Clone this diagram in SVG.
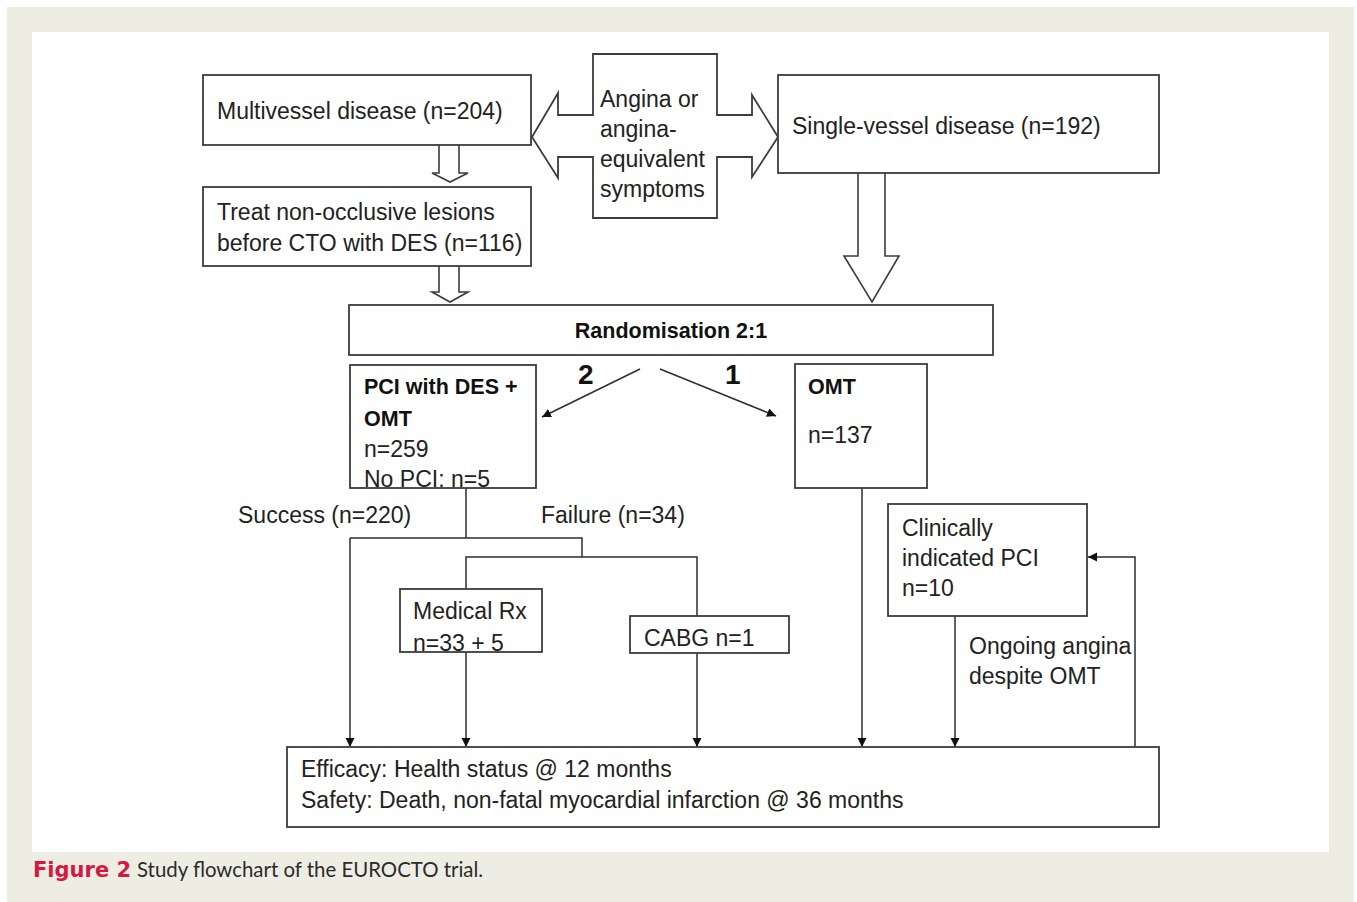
<svg xmlns="http://www.w3.org/2000/svg" width="1357" height="902" viewBox="0 0 1357 902">
  <defs>
    <style>
      .box { fill: #ffffff; stroke: #3c3c3c; stroke-width: 1.8; }
      .ln { fill: none; stroke: #2e2e2e; stroke-width: 1.5; }
      .hol { fill: #ffffff; stroke: #3c3c3c; stroke-width: 1.6; stroke-linejoin: miter; }
      .t { font-family: "Liberation Sans", Arial, sans-serif; font-size: 23px; fill: #222222; }
      .b { font-family: "Liberation Sans", Arial, sans-serif; font-size: 21.5px; font-weight: bold; fill: #111111; }
      .num { font-family: "Liberation Sans", Arial, sans-serif; font-size: 28px; font-weight: bold; fill: #111111; }
      .capb { font-family: "DejaVu Sans", sans-serif; font-size: 21px; font-weight: bold; fill: #d6173f; }
      .cap { font-family: Lato, "Liberation Sans", sans-serif; font-size: 20.4px; fill: #2b2b2b; }
    </style>
    <marker id="ah" markerWidth="10" markerHeight="10" refX="9" refY="4.5" orient="auto" markerUnits="userSpaceOnUse">
      <path d="M0,0 L9,4.5 L0,9 Z" fill="#111111"/>
    </marker>
  </defs>

  <rect x="0" y="0" width="1357" height="902" fill="#ffffff"/>
  <rect x="7" y="7" width="1347" height="895" fill="#eeede3"/>
  <rect x="32" y="32" width="1297" height="820" fill="#ffffff"/>

  <g id="connectors">
    <!-- hollow arrows -->
    <path class="hol" d="M439,145 V173 H432 L450,182 L468,173 H459 V145"/>
    <path class="hol" d="M439,266 V292 H432 L450,302 L468,292 H459 V266"/>
    <path class="hol" d="M858,173 V256 H844 L872,302 L899,256 H885 V173"/>
    <!-- randomisation arrows -->
    <line class="ln" x1="640" y1="369" x2="542" y2="417" marker-end="url(#ah)"/>
    <line class="ln" x1="660" y1="369" x2="776" y2="416" marker-end="url(#ah)"/>
    <!-- PCI tree -->
    <polyline class="ln" points="466,488 466,538"/>
    <polyline class="ln" points="350,538 582,538 582,557"/>
    <polyline class="ln" points="466,589 466,557 697,557 697,616"/>
    <line class="ln" x1="350" y1="538" x2="350" y2="747" marker-end="url(#ah)"/>
    <line class="ln" x1="466" y1="652" x2="466" y2="747" marker-end="url(#ah)"/>
    <line class="ln" x1="697" y1="653" x2="697" y2="747" marker-end="url(#ah)"/>
    <!-- OMT branch -->
    <line class="ln" x1="862" y1="488" x2="862" y2="747" marker-end="url(#ah)"/>
    <line class="ln" x1="955" y1="616" x2="955" y2="747" marker-end="url(#ah)"/>
    <polyline class="ln" points="1135,747 1135,557 1088,557" marker-end="url(#ah)"/>
  </g>

  <g id="node-symptoms">
    <path class="box" d="M593,54 H717 V115 H752 V95 L778,137 L752,177 V157 H717 V218 H593 V157 H558 V178 L532,137 L558,93 V115 H593 Z"/>
    <text class="t" x="600" y="107">Angina or</text>
    <text class="t" x="600" y="137">angina-</text>
    <text class="t" x="600" y="167">equivalent</text>
    <text class="t" x="600" y="197">symptoms</text>
  </g>

  <g id="node-multivessel">
    <rect class="box" x="203" y="75" width="328" height="70"/>
    <text class="t" x="217" y="119">Multivessel disease (n=204)</text>
  </g>

  <g id="node-single">
    <rect class="box" x="778" y="75" width="381" height="98"/>
    <text class="t" x="792" y="134">Single-vessel disease (n=192)</text>
  </g>

  <g id="node-treat">
    <rect class="box" x="203" y="187" width="328" height="79"/>
    <text class="t" x="217" y="220">Treat non-occlusive lesions</text>
    <text class="t" x="217" y="251">before CTO with DES (n=116)</text>
  </g>

  <g id="node-randomisation">
    <rect class="box" x="349" y="305" width="644" height="50"/>
    <text class="b" x="671" y="338" text-anchor="middle">Randomisation 2:1</text>
  </g>

  <g id="labels-ratio">
    <text class="num" x="578" y="384">2</text>
    <text class="num" x="725" y="384">1</text>
  </g>

  <g id="node-pci">
    <rect class="box" x="350" y="365" width="186" height="123"/>
    <text class="b" x="364" y="394">PCI with DES +</text>
    <text class="b" x="364" y="426">OMT</text>
    <text class="t" x="364" y="457">n=259</text>
    <text class="t" x="364" y="487">No PCI: n=5</text>
  </g>

  <g id="node-omt">
    <rect class="box" x="795" y="364" width="132" height="124"/>
    <text class="b" x="808" y="394">OMT</text>
    <text class="t" x="808" y="443">n=137</text>
  </g>

  <g id="labels-outcome">
    <text class="t" x="238" y="523">Success (n=220)</text>
    <text class="t" x="541" y="523">Failure (n=34)</text>
    <text class="t" x="969" y="654">Ongoing angina</text>
    <text class="t" x="969" y="684">despite OMT</text>
  </g>

  <g id="node-medical">
    <rect class="box" x="400" y="589" width="142" height="63"/>
    <text class="t" x="413" y="619">Medical Rx</text>
    <text class="t" x="413" y="651">n=33 + 5</text>
  </g>

  <g id="node-cabg">
    <rect class="box" x="630" y="616" width="159" height="37"/>
    <text class="t" x="644" y="646">CABG n=1</text>
  </g>

  <g id="node-clinical">
    <rect class="box" x="888" y="504" width="199" height="112"/>
    <text class="t" x="902" y="536">Clinically</text>
    <text class="t" x="902" y="566">indicated PCI</text>
    <text class="t" x="902" y="596">n=10</text>
  </g>

  <g id="node-endpoints">
    <rect class="box" x="287" y="747" width="872" height="80"/>
    <text class="t" x="301" y="777">Efficacy: Health status @ 12 months</text>
    <text class="t" x="301" y="808">Safety: Death, non-fatal myocardial infarction @ 36 months</text>
  </g>

  <g id="caption">
    <text class="capb" x="33" y="877">Figure 2</text>
    <text class="cap" x="137" y="877">Study flowchart of the EUROCTO trial.</text>
  </g>
</svg>
